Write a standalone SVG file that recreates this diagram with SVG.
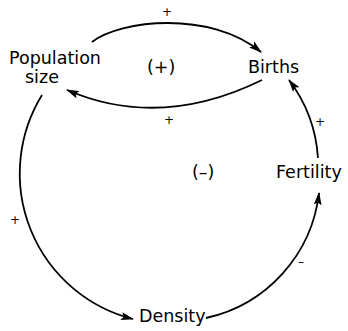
<svg xmlns="http://www.w3.org/2000/svg" width="348" height="331" viewBox="0 0 348 331">
<style>
.lbl{font-family:"DejaVu Sans",sans-serif;font-size:17.5px;fill:#000}
.sgn{font-family:"DejaVu Sans",sans-serif;font-size:12px;fill:#000;text-anchor:middle}
.c{fill:none;stroke:#000;stroke-width:1.8;marker-end:url(#ah)}
</style>
<defs>
<marker id="ah" viewBox="0 0 13 8" refX="12" refY="4" markerWidth="13" markerHeight="8" markerUnits="userSpaceOnUse" orient="auto">
<path d="M0,0 L13,4 L0,8 L2.5,4 z" fill="#000"/>
</marker>
</defs>
<rect width="348" height="331" fill="#fff"/>
<g id="connectors">
<path class="c" d="M92,42 C120,20 210,10 261,52"/>
<path class="c" d="M262,80 Q160,130 67,90"/>
<path class="c" d="M42,95 A150,150 0 0 0 133,319"/>
<path class="c" d="M206,318 A145,145 0 0 0 319,193"/>
<path class="c" d="M318,158 A145,145 0 0 0 289,80"/>
<text class="sgn" x="167" y="16">+</text>
<text class="sgn" x="169" y="124">+</text>
<text class="sgn" x="15" y="224">+</text>
<text class="sgn" x="320" y="126">+</text>
<text class="sgn" x="301" y="266">–</text>
</g>
<g id="population">
<text class="lbl" x="9" y="64">Population</text>
<text class="lbl" x="25" y="83">size</text>
</g>
<g id="births"><text class="lbl" x="248" y="73">Births</text></g>
<g id="fertility"><text class="lbl" x="276" y="178">Fertility</text></g>
<g id="density"><text class="lbl" x="139" y="322">Density</text></g>
<g id="loop-pos"><text class="lbl" x="147" y="73">(+)</text></g>
<g id="loop-neg"><text class="lbl" x="192" y="178">(–)</text></g>
</svg>
